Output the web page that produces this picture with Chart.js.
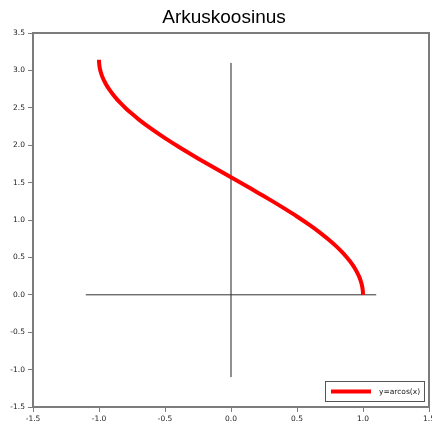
<!DOCTYPE html>
<html>
<head>
<meta charset="utf-8">
<script src="https://cdn.jsdelivr.net/npm/chart.js@4/dist/chart.umd.min.js"></script>
<style>
  html, body { margin: 0; padding: 0; background: #ffffff; }
  #wrap { width: 432px; height: 425px; }
</style>
</head>
<body>
<div id="wrap"><canvas id="chart" width="432" height="425"></canvas></div>
<script>
// Title and legend text
const titleText = 'Arkuskoosinus';
const seriesLabel = 'y=arcos(x)';

// Points of the arccos curve
const curveX = [-1.00, -0.999, -0.995, -0.99, -0.98, -0.97, -0.96, -0.94, -0.92, -0.90, -0.87,
                -0.84, -0.80, -0.75, -0.70, -0.60, -0.50, -0.40, -0.30, -0.20, -0.10,
                0.00, 0.10, 0.20, 0.30, 0.40, 0.50, 0.60, 0.70, 0.75, 0.80,
                0.84, 0.87, 0.90, 0.92, 0.94, 0.96, 0.97, 0.98, 0.99, 0.995, 0.999, 1.00];
const curveY = [3.142, 3.097, 3.041, 3.000, 2.941, 2.896, 2.858, 2.793, 2.739, 2.691, 2.626,
                2.568, 2.498, 2.419, 2.346, 2.214, 2.094, 1.982, 1.875, 1.772, 1.671,
                1.571, 1.471, 1.369, 1.266, 1.159, 1.047, 0.927, 0.795, 0.723, 0.644,
                0.574, 0.516, 0.451, 0.403, 0.348, 0.284, 0.246, 0.200, 0.142, 0.100, 0.045, 0.000];

// Coordinate cross through the origin
const hAxisX = [-1.1, 1.1];
const hAxisY = [0, 0];
const vAxisX = [0, 0];
const vAxisY = [-1.1, 3.1];

// Tick labels
const xTickValues = [-1.5, -1.0, -0.5, 0.0, 0.5, 1.0, 1.5];
const yTickValues = [-1.5, -1.0, -0.5, 0.0, 0.5, 1.0, 1.5, 2.0, 2.5, 3.0, 3.5];

const toPoints = (xs, ys) => xs.map((x, i) => ({ x: x, y: ys[i] }));

const TITLE_FONT = '"Liberation Sans", Arial, sans-serif';
const SMALL_FONT = '"DejaVu Sans", Verdana, sans-serif';
const FRAME = '#7c7c7c';

// Frame, title and boxed legend
const decorations = {
  id: 'decorations',
  beforeDatasetsDraw(chart) {
    const { ctx, chartArea: a } = chart;
    ctx.save();
    ctx.strokeStyle = FRAME;
    ctx.lineWidth = 2;
    ctx.strokeRect(a.left, a.top, a.right - a.left, a.bottom - a.top);
    ctx.restore();
  },
  afterDraw(chart) {
    const { ctx } = chart;
    ctx.save();
    // title
    ctx.fillStyle = '#000000';
    ctx.font = '19px ' + TITLE_FONT;
    ctx.textAlign = 'center';
    ctx.textBaseline = 'alphabetic';
    ctx.fillText(titleText, 224, 23);

    // legend box
    const bx = 325.5, by = 381.5, bw = 99, bh = 20;
    ctx.fillStyle = '#ffffff';
    ctx.fillRect(bx, by, bw, bh);
    ctx.strokeStyle = '#555555';
    ctx.lineWidth = 1;
    ctx.strokeRect(bx, by, bw, bh);
    ctx.strokeStyle = '#ff0000';
    ctx.lineWidth = 4;
    ctx.beginPath();
    ctx.moveTo(331, 391.5);
    ctx.lineTo(371, 391.5);
    ctx.stroke();
    ctx.fillStyle = '#222222';
    ctx.font = '7.5px ' + SMALL_FONT;
    ctx.textAlign = 'left';
    ctx.textBaseline = 'middle';
    ctx.fillText(seriesLabel, 379, 392);
    ctx.restore();
  }
};

new Chart(document.getElementById('chart'), {
  type: 'scatter',
  data: {
    datasets: [
      {
        label: seriesLabel,
        data: toPoints(curveX, curveY),
        showLine: true,
        borderColor: '#ff0000',
        borderWidth: 4,
        pointRadius: 0,
        tension: 0.3,
        fill: false
      },
      {
        label: 'x-akse',
        data: toPoints(hAxisX, hAxisY),
        showLine: true,
        borderColor: '#333333',
        borderWidth: 1,
        pointRadius: 0
      },
      {
        label: 'y-akse',
        data: toPoints(vAxisX, vAxisY),
        showLine: true,
        borderColor: '#222222',
        borderWidth: 1,
        pointRadius: 0
      }
    ]
  },
  options: {
    responsive: false,
    animation: false,
    layout: { padding: { top: 33, right: 3, left: 0, bottom: 0 } },
    plugins: {
      legend: { display: false },
      title: { display: false },
      tooltip: { enabled: false }
    },
    scales: {
      x: {
        type: 'linear',
        min: -1.5,
        max: 1.5,
        afterBuildTicks: s => { s.ticks = xTickValues.map(v => ({ value: v })); },
        afterFit: s => { s.height = 18; s.paddingLeft = 0; s.paddingRight = 0; },
        border: { display: false },
        grid: { drawOnChartArea: false, drawTicks: true, tickLength: 5, color: FRAME, lineWidth: 1 },
        ticks: {
          color: '#222222',
          font: { family: SMALL_FONT, size: 7.5 },
          padding: 3,
          maxRotation: 0,
          callback: v => Number(v).toFixed(1)
        }
      },
      y: {
        type: 'linear',
        min: -1.5,
        max: 3.5,
        afterBuildTicks: s => { s.ticks = yTickValues.map(v => ({ value: v })); },
        afterFit: s => { s.width = 33; s.paddingTop = 0; s.paddingBottom = 0; },
        border: { display: false },
        grid: { drawOnChartArea: false, drawTicks: true, tickLength: 5, color: FRAME, lineWidth: 1 },
        ticks: {
          color: '#222222',
          font: { family: SMALL_FONT, size: 7.5 },
          padding: 3,
          callback: v => Number(v).toFixed(1)
        }
      }
    }
  },
  plugins: [decorations]
});
</script>
</body>
</html>
